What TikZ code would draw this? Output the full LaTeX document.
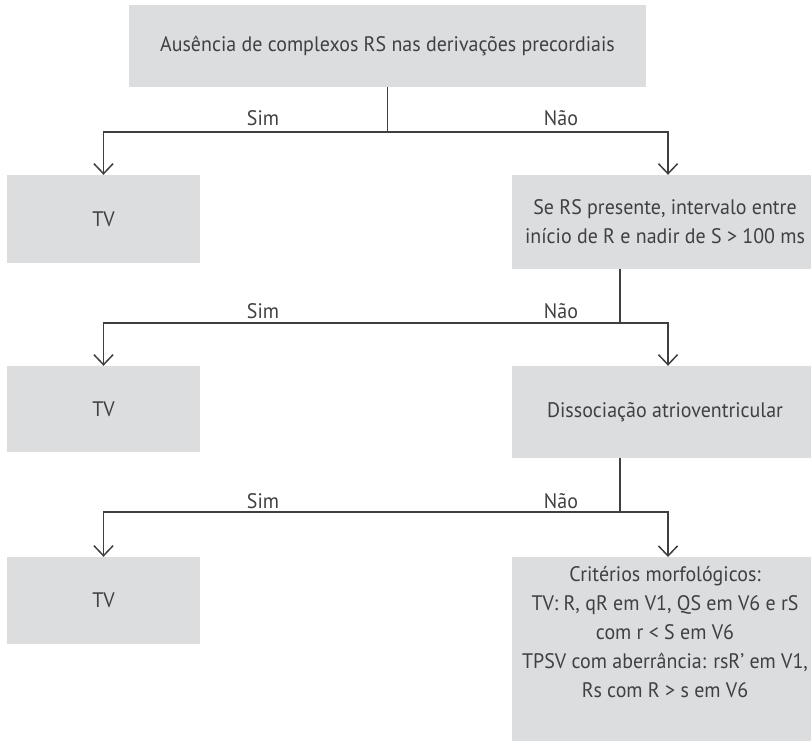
\documentclass[tikz,border=0pt]{standalone}
\usepackage{fontspec}
\setmainfont{PT Sans}[FakeStretch=0.95]
\usetikzlibrary{arrows.meta}
\definecolor{boxgray}{HTML}{DCDDDF}
\definecolor{linegray}{HTML}{3F3F3F}
\definecolor{txtgray}{HTML}{404040}
\begin{document}
\begin{tikzpicture}[x=1pt,y=-1pt,
  box/.style={fill=boxgray, draw=none, inner sep=0pt, text=txtgray,
    font=\fontsize{21}{29}\selectfont, align=center},
  link/.style={draw=linegray, line width=1.5pt},
  arr/.style={link, -{Straight Barb[length=10pt,width=19pt]}},
  lbl/.style={text=txtgray, font=\fontsize{21}{24}\selectfont, inner sep=0pt}]
\clip (0,0) rectangle (811,740);

% rails and columns used by the connectors
\coordinate (rail1) at (0,132);
\coordinate (rail2) at (0,323);
\coordinate (rail3) at (0,512);
\coordinate (rx) at (668,0);
\coordinate (sx) at (620,0);

% decision and outcome boxes
\node[box, minimum width=517pt, minimum height=82pt] (q1) at (387.5,46)
  {Ausência de complexos RS nas derivações precordiais};
\node[box, minimum width=193pt, minimum height=88pt] (tv1) at (103.5,219) {TV};
\node[box, minimum width=306pt, minimum height=94pt] (q2) at (665,222)
  {Se RS presente, intervalo entre\\início de R e nadir de S > 100 ms};
\node[box, minimum width=193pt, minimum height=86pt] (tv2) at (103.5,409) {TV};
\node[box, minimum width=306pt, minimum height=92pt] (q3) at (665,412)
  {Dissociação atrioventricular};
\node[box, minimum width=193pt, minimum height=87pt] (tv3) at (103.5,600.5) {TV};
\node[box, anchor=north, minimum width=306pt, inner ysep=9pt] (q4) at (665,557)
  {Critérios morfológicos:\\
   TV: R, qR em V1, QS em V6 e rS\\
   com r < S em V6\\
   TPSV com aberrância: rsR’ em V1,\\
   Rs com R > s em V6\rule[-38pt]{0pt}{38pt}};

% first split
\draw[link] (q1.south) -- (q1.south |- rail1) coordinate (j1);
\draw[arr] (j1) -| (tv1.north);
\draw[arr] (j1) -| (rx |- q2.north);
\node[lbl] (s1) at (263,118) {Sim};
\node[lbl] (n1) at (561,118) {Não};

% second split
\draw[link] (q2.south -| sx) -- (sx |- rail2) coordinate (j2);
\draw[arr] (j2) -| (tv2.north);
\draw[arr] (j2) -| (rx |- q3.north);
\node[lbl] (s2) at (263,311) {Sim};
\node[lbl] (n2) at (561,311) {Não};

% third split
\draw[link] (q3.south -| sx) -- (sx |- rail3) coordinate (j3);
\draw[arr] (j3) -| (tv3.north);
\draw[arr] (j3) -| (rx |- q4.north);
\node[lbl] (s3) at (263,501) {Sim};
\node[lbl] (n3) at (561,501) {Não};
\end{tikzpicture}
\end{document}
